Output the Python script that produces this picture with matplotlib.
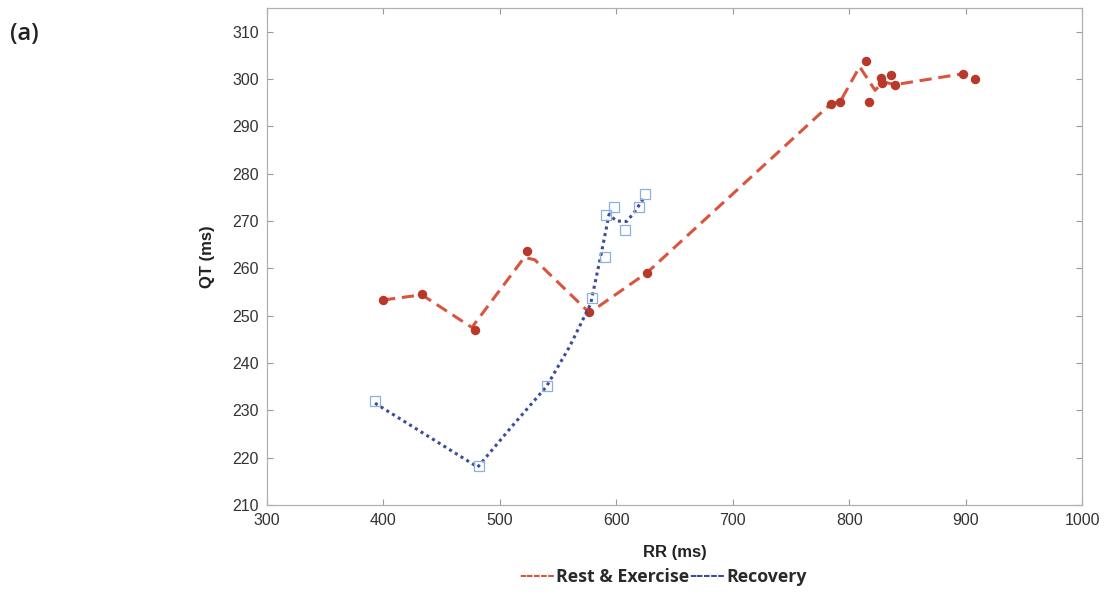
import numpy as np
import matplotlib.pyplot as plt

# Rest & Exercise beats (RR, QT in ms)
rest_rr = [399.7, 433.0, 478.7, 523.4, 576.6, 626.5, 784.5, 792.3, 814.6, 817.2,
           827.5, 828.3, 836.0, 839.5, 897.9, 908.2]
rest_qt = [253.3, 254.5, 246.9, 263.6, 250.8, 259.1, 294.8, 295.2, 303.9, 295.1,
           300.2, 299.1, 300.8, 298.7, 301.1, 300.0]
# fitted trend through rest & exercise
rest_fit_rr = [399.7, 433.0, 476.0, 521.0, 530.0, 577.0, 626.5, 784.5, 792.3,
               809.0, 822.3, 829.0, 839.5, 897.9]
rest_fit_qt = [253.3, 254.4, 247.5, 262.3, 261.8, 250.6, 259.1, 294.8, 295.2,
               302.6, 297.6, 299.4, 298.8, 301.1]

# Recovery beats
rec_rr = [392.8, 482.1, 540.5, 579.2, 590.4, 591.2, 598.1, 607.6, 619.6, 624.7]
rec_qt = [231.9, 218.2, 235.1, 253.7, 262.3, 271.2, 272.9, 268.0, 272.9, 275.6]
rec_fit_rr = [392.8, 481.0, 510.0, 540.0, 560.0, 578.0, 587.0, 593.8, 600.0,
              609.0, 616.0, 624.0]
rec_fit_qt = [231.5, 218.0, 226.5, 235.0, 243.5, 252.5, 263.0, 271.4, 270.0,
              269.9, 272.0, 275.0]

legend_parts = [('-----', '#d9553f'), ('Rest & Exercise', '#2a2a2a'),
                ('-----', '#3b4c9c'), ('Recovery', '#2a2a2a')]

fig = plt.figure(figsize=(11.11, 5.95), dpi=100)
ax = fig.add_axes([0.2403, 0.1513, 0.7336, 0.8353])

ax.plot(rest_fit_rr, rest_fit_qt, color='#d9553f', linestyle=(0, (4, 2.2)), linewidth=2.2)
ax.plot(rest_rr, rest_qt, 'o', color='#b8392a', markersize=6.8, markeredgewidth=0)
ax.plot(rec_fit_rr, rec_fit_qt, color='#3b4c9c', linestyle=(0, (1, 1.2)), linewidth=2.2)
ax.plot(rec_rr, rec_qt, 's', markerfacecolor='none', markeredgecolor='#8db0da',
        markersize=6.5, markeredgewidth=0.9)

ax.set_xlim(300, 1000)
ax.set_ylim(210, 315)
ax.set_xticks(np.arange(300, 1001, 100))
ax.set_yticks(np.arange(210, 311, 10))
tick_font = {'family': 'Liberation Sans', 'size': 11.5, 'color': '#333333'}
ax.set_xticklabels([str(v) for v in range(300, 1001, 100)], fontdict=tick_font)
ax.set_yticklabels([str(v) for v in range(210, 311, 10)], fontdict=tick_font)
ax.tick_params(direction='in', length=4, width=0.8, color='#999999',
               top=True, right=True, pad=6)
for s in ax.spines.values():
    s.set_color('#b0b0b0')
    s.set_linewidth(0.9)

ax.set_xlabel('RR (ms)', fontfamily='Liberation Sans', fontweight='bold',
              fontsize=12, color='#222222', labelpad=12)
ax.set_ylabel('QT (ms)', fontfamily='Liberation Sans', fontweight='bold',
              fontsize=12, color='#222222', labelpad=12)

fig.text(0.009, 0.932, '(a)', fontfamily='Open Sans', fontweight='semibold',
         fontsize=17, color='#222222')

# legend line under the axis label, pieces placed end to end
fig.canvas.draw()
renderer = fig.canvas.get_renderer()
x = 519 / 1111
for s, c in legend_parts:
    is_dash = s.startswith('-')
    t = fig.text(x, 0.022, s, fontfamily='Open Sans',
                 fontweight='semibold' if is_dash else 'bold',
                 fontsize=16 if is_dash else 12.8, color=c)
    w = t.get_window_extent(renderer).width
    x += (w + 1) / 1111

fig.savefig('out.png', dpi=100)
